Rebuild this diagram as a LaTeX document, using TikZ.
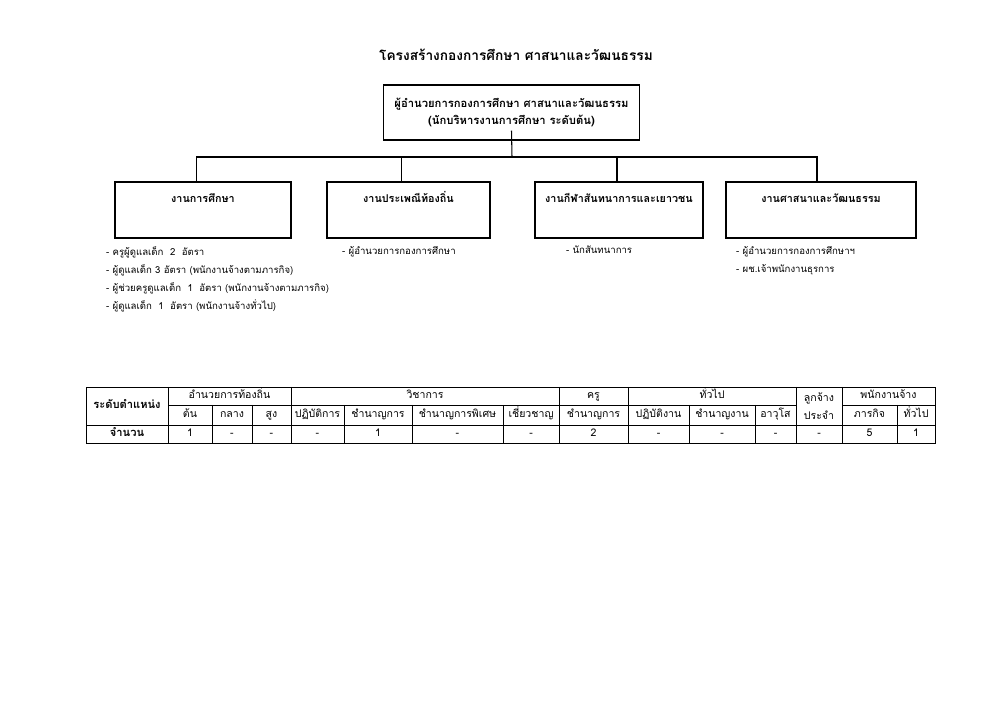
\documentclass[tikz,border=0pt]{standalone}
\usepackage{fontspec}
\setmainfont[Script=Thai]{Loma}
\usetikzlibrary{positioning}
\tikzset{
  headbox/.style={draw, line width=1.1pt, minimum width=77mm, minimum height=16.5mm, align=center, font=\bfseries\fontsize{9.6}{15}\selectfont},
  unitbox/.style={draw, line width=1.1pt, minimum height=16.8mm, inner sep=0pt},
  unitname/.style={inner sep=0pt, text height=8pt, text depth=2.5pt, font=\bfseries\fontsize{9.2}{12}\selectfont},
  staff/.style={anchor=north west, align=left, inner sep=0pt, font=\fontsize{8.2}{15.5}\selectfont},
  link/.style={draw, line width=0.9pt},
  grid/.style={draw, line width=0.5pt},
  cell/.style={inner sep=0pt, text height=7pt, text depth=2pt, font=\fontsize{9}{11}\selectfont},
  headcell/.style={inner sep=0pt, text height=7pt, text depth=2pt, font=\bfseries\fontsize{9.5}{11}\selectfont},
}
\begin{document}
\begin{tikzpicture}[x=0.3mm, y=-0.3mm]
  \useasboundingbox (0,0) rectangle (1000,707);
  \node[font=\bfseries\fontsize{11.7}{14}\selectfont] (title) at (516,55) {โครงสร้างกองการศึกษา ศาสนาและวัฒนธรรม};
  \node[headbox] (dir) at (511.5,112.5) {ผู้อำนวยการกองการศึกษา ศาสนาและวัฒนธรรม\\(นักบริหารงานการศึกษา ระดับต้น)};
  % four units
  \node[unitbox, minimum width=52.8mm] (edu) at (203,210) {};
  \node[unitbox, minimum width=48.9mm] (trad) at (408.5,210) {};
  \node[unitbox, minimum width=50.4mm] (sport) at (619,210) {};
  \node[unitbox, minimum width=57mm] (cult) at (821,210) {};
  \node[unitname, below=3.4mm of edu.north] (edutxt) {งานการศึกษา};
  \node[unitname, below=3.4mm of trad.north] (tradtxt) {งานประเพณีท้องถิ่น};
  \node[unitname, below=3.4mm of sport.north] (sporttxt) {งานกีฬาสันทนาการและเยาวชน};
  \node[unitname, below=3.4mm of cult.north] (culttxt) {งานศาสนาและวัฒนธรรม};
  % connectors
  \coordinate (bus) at (512,157);
  \draw[link] ([yshift=3mm]dir.south) -- (bus);
  \draw[link] ([xshift=-2mm]edu.north) |- (bus) -| ([xshift=-1.2mm]cult.north);
  \draw[link] ([xshift=-2mm]trad.north) -- ([xshift=-2mm]trad.north |- bus);
  \draw[link] ([xshift=-0.6mm]sport.north) -- ([xshift=-0.6mm]sport.north |- bus);
  % staff lists
  \node[staff] (edulist) at (106,246) {- ครูผู้ดูแลเด็ก\ \ 2\ \ อัตรา\\- ผู้ดูแลเด็ก\ 3\ อัตรา (พนักงานจ้างตามภารกิจ)\\- ผู้ช่วยครูดูแลเด็ก\ \ 1\ \ อัตรา (พนักงานจ้างตามภารกิจ)\\- ผู้ดูแลเด็ก\ \ 1\ \ อัตรา\ (พนักงานจ้างทั่วไป)};
  \node[staff] (tradlist) at (342,246) {- ผู้อำนวยการกองการศึกษา};
  \node[staff] (sportlist) at (566,246) {- นักสันทนาการ};
  \node[staff] (cultlist) at (736,246) {- ผู้อำนวยการกองการศึกษาฯ\\- ผช.เจ้าพนักงานธุรการ};
  % table of positions
  \draw[grid] (86,387) rectangle (935,443);
  \draw[grid] (86,425) -- (935,425);
  \draw[grid] (168,405) -- (796,405) (842,405) -- (935,405);
  \foreach \xc in {168,291,559,628,796,842}
    \draw[grid] (\xc,387) -- (\xc,443);
  \foreach \xc in {212,252,344,412,503,689,755,897}
    \draw[grid] (\xc,405) -- (\xc,443);
  \node[headcell] (lvl) at (127,406) {ระดับตำแหน่ง};
  \node[headcell] (num) at (127,434) {จำนวน};
  \foreach \xa/\xb/\txt [count=\i] in {168/291/อำนวยการท้องถิ่น, 291/559/วิชาการ, 559/628/ครู, 628/796/ทั่วไป, 842/935/พนักงานจ้าง}
    \node[cell] (grp\i) at ({(\xa+\xb)/2},396) {\txt};
  \node[cell, align=center, text height=, text depth=, font=\fontsize{9}{15}\selectfont] (perm) at (819,406) {ลูกจ้าง\\ประจำ};
  \foreach \xa/\xb/\txt/\val [count=\i] in {168/212/ต้น/1, 212/252/กลาง/-, 252/291/สูง/-, 291/344/ปฏิบัติการ/-, 344/412/ชำนาญการ/1, 412/503/ชำนาญการพิเศษ/-, 503/559/เชี่ยวชาญ/-, 559/628/ชำนาญการ/2, 628/689/ปฏิบัติงาน/-, 689/755/ชำนาญงาน/-, 755/796/อาวุโส/-, 796/842//-, 842/897/ภารกิจ/5, 897/935/ทั่วไป/1} {
    \node[cell] (rank\i) at ({(\xa+\xb)/2},415) {\txt};
    \node[cell] (val\i) at ({(\xa+\xb)/2},434) {\val};
  }
\end{tikzpicture}
\end{document}
